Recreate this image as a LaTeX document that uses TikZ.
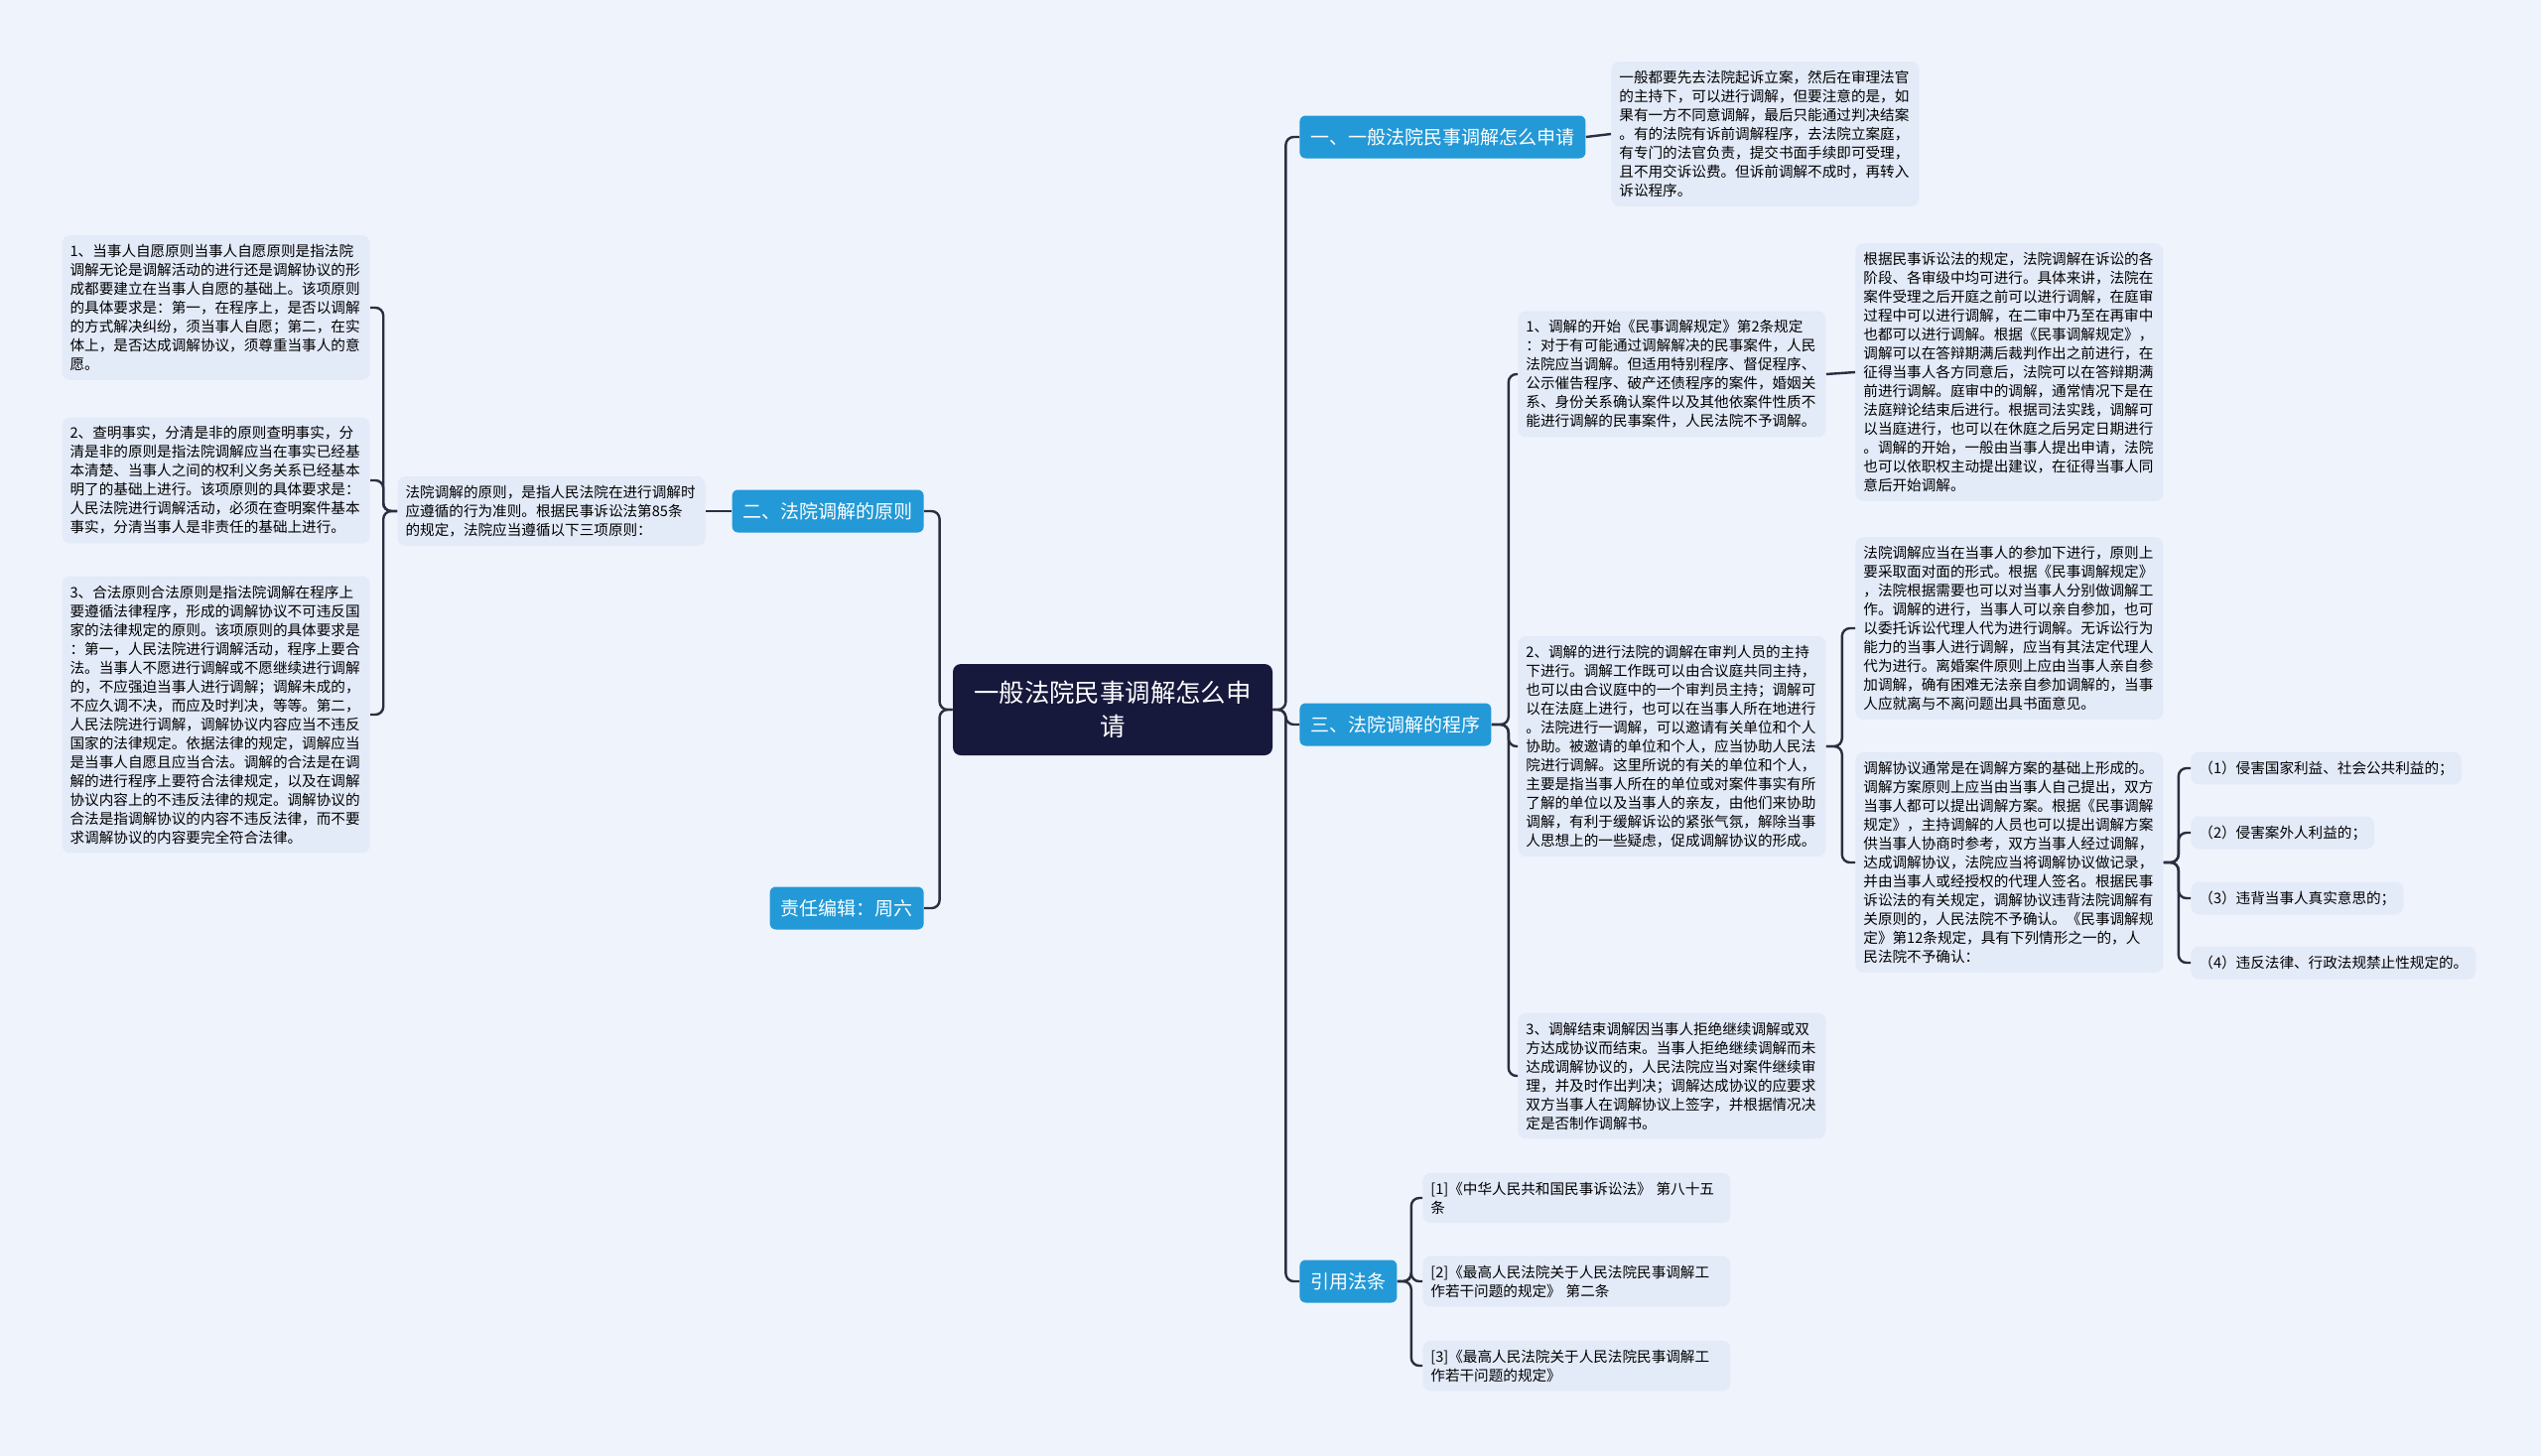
\documentclass[tikz,border=0pt]{standalone}
\usepackage{fontspec}
\setmainfont{Noto Sans CJK SC}
\usetikzlibrary{positioning}
\definecolor{bgc}{HTML}{EFF3FC}
\definecolor{boxc}{HTML}{E3EAF8}
\definecolor{topicc}{HTML}{2399D7}
\definecolor{rootc}{HTML}{16183C}
\definecolor{linec}{HTML}{2B2E40}

\begin{document}
\begin{tikzpicture}[
    x=0.5pt, y=-0.5pt,
    rootbox/.style={fill=rootc, text=white, rounded corners=4pt, minimum width=161pt, minimum height=46pt, text width=141pt, align=center, font=\fontsize{12.7pt}{17pt}\selectfont},
    topic/.style={fill=topicc, text=white, rounded corners=3pt, minimum height=21.5pt, inner xsep=5.5pt, font=\fontsize{9.5pt}{12pt}\selectfont},
    note/.style={fill=boxc, rounded corners=4pt, text width=147pt, align=left, inner xsep=4pt, inner ysep=4.5pt, font=\fontsize{7.3pt}{9.5pt}\selectfont},
    item/.style={fill=boxc, rounded corners=4pt, minimum height=16.5pt, inner xsep=4pt, font=\fontsize{7.3pt}{9.5pt}\selectfont},
    link/.style={draw=linec, line width=1.2pt, rounded corners=4pt}
]
    \fill[bgc] (0,0) rectangle (2560,1467);

    \node[rootbox] (root) at (1121, 715) {一般法院民事调解怎么申\\请};

    \node[topic, anchor=west] (apply) at (1309, 138) {一、一般法院民事调解怎么申请};
    \node[topic, anchor=east] (rule) at (931, 515) {二、法院调解的原则};
    \node[topic, anchor=west] (proc) at (1309, 730) {三、法院调解的程序};
    \node[topic, anchor=west] (cite) at (1309, 1291) {引用法条};
    \node[topic, anchor=east] (editor) at (931, 915) {责任编辑：周六};

    \node[note, anchor=west] (applytxt) at (1623, 135) {一般都要先去法院起诉立案，然后在审理法官\\
的主持下，可以进行调解，但要注意的是，如\\
果有一方不同意调解，最后只能通过判决结案\\
。有的法院有诉前调解程序，去法院立案庭，\\
有专门的法官负责，提交书面手续即可受理，\\
且不用交诉讼费。但诉前调解不成时，再转入\\
诉讼程序。};

    \node[note, anchor=east] (ruletxt) at (711, 515) {法院调解的原则，是指人民法院在进行调解时\\
应遵循的行为准则。根据民事诉讼法第85条\\
的规定，法院应当遵循以下三项原则：};

    \node[note, anchor=east] (rule1) at (373, 310) {1、当事人自愿原则当事人自愿原则是指法院\\
调解无论是调解活动的进行还是调解协议的形\\
成都要建立在当事人自愿的基础上。该项原则\\
的具体要求是：第一，在程序上，是否以调解\\
的方式解决纠纷，须当事人自愿；第二，在实\\
体上，是否达成调解协议，须尊重当事人的意\\
愿。};

    \node[note, anchor=east] (rule2) at (373, 484) {2、查明事实，分清是非的原则查明事实，分\\
清是非的原则是指法院调解应当在事实已经基\\
本清楚、当事人之间的权利义务关系已经基本\\
明了的基础上进行。该项原则的具体要求是：\\
人民法院进行调解活动，必须在查明案件基本\\
事实，分清当事人是非责任的基础上进行。};

    \node[note, anchor=east] (rule3) at (373, 720) {3、合法原则合法原则是指法院调解在程序上\\
要遵循法律程序，形成的调解协议不可违反国\\
家的法律规定的原则。该项原则的具体要求是\\
：第一，人民法院进行调解活动，程序上要合\\
法。当事人不愿进行调解或不愿继续进行调解\\
的，不应强迫当事人进行调解；调解未成的，\\
不应久调不决，而应及时判决，等等。第二，\\
人民法院进行调解，调解协议内容应当不违反\\
国家的法律规定。依据法律的规定，调解应当\\
是当事人自愿且应当合法。调解的合法是在调\\
解的进行程序上要符合法律规定，以及在调解\\
协议内容上的不违反法律的规定。调解协议的\\
合法是指调解协议的内容不违反法律，而不要\\
求调解协议的内容要完全符合法律。};

    \node[note, anchor=west] (start) at (1529, 377) {1、调解的开始《民事调解规定》第2条规定\\
：对于有可能通过调解解决的民事案件，人民\\
法院应当调解。但适用特别程序、督促程序、\\
公示催告程序、破产还债程序的案件，婚姻关\\
系、身份关系确认案件以及其他依案件性质不\\
能进行调解的民事案件，人民法院不予调解。};

    \node[note, anchor=west] (starttxt) at (1869, 375) {根据民事诉讼法的规定，法院调解在诉讼的各\\
阶段、各审级中均可进行。具体来讲，法院在\\
案件受理之后开庭之前可以进行调解，在庭审\\
过程中可以进行调解，在二审中乃至在再审中\\
也都可以进行调解。根据《民事调解规定》，\\
调解可以在答辩期满后裁判作出之前进行，在\\
征得当事人各方同意后，法院可以在答辩期满\\
前进行调解。庭审中的调解，通常情况下是在\\
法庭辩论结束后进行。根据司法实践，调解可\\
以当庭进行，也可以在休庭之后另定日期进行\\
。调解的开始，一般由当事人提出申请，法院\\
也可以依职权主动提出建议，在征得当事人同\\
意后开始调解。};

    \node[note, anchor=west] (run) at (1529, 752) {2、调解的进行法院的调解在审判人员的主持\\
下进行。调解工作既可以由合议庭共同主持，\\
也可以由合议庭中的一个审判员主持；调解可\\
以在法庭上进行，也可以在当事人所在地进行\\
。法院进行一调解，可以邀请有关单位和个人\\
协助。被邀请的单位和个人，应当协助人民法\\
院进行调解。这里所说的有关的单位和个人，\\
主要是指当事人所在的单位或对案件事实有所\\
了解的单位以及当事人的亲友，由他们来协助\\
调解，有利于缓解诉讼的紧张气氛，解除当事\\
人思想上的一些疑虑，促成调解协议的形成。};

    \node[note, anchor=west] (runtxt) at (1869, 633) {法院调解应当在当事人的参加下进行，原则上\\
要采取面对面的形式。根据《民事调解规定》\\
，法院根据需要也可以对当事人分别做调解工\\
作。调解的进行，当事人可以亲自参加，也可\\
以委托诉讼代理人代为进行调解。无诉讼行为\\
能力的当事人进行调解，应当有其法定代理人\\
代为进行。离婚案件原则上应由当事人亲自参\\
加调解，确有困难无法亲自参加调解的，当事\\
人应就离与不离问题出具书面意见。};

    \node[note, anchor=west] (deal) at (1869, 869) {调解协议通常是在调解方案的基础上形成的。\\
调解方案原则上应当由当事人自己提出，双方\\
当事人都可以提出调解方案。根据《民事调解\\
规定》，主持调解的人员也可以提出调解方案\\
供当事人协商时参考，双方当事人经过调解，\\
达成调解协议，法院应当将调解协议做记录，\\
并由当事人或经授权的代理人签名。根据民事\\
诉讼法的有关规定，调解协议违背法院调解有\\
关原则的，人民法院不予确认。《民事调解规\\
定》第12条规定，具有下列情形之一的，人\\
民法院不予确认：};

    \node[item, anchor=west] (case1) at (2207, 774) {（1）侵害国家利益、社会公共利益的；};
    \node[item, anchor=west] (case2) at (2207, 839) {（2）侵害案外人利益的；};
    \node[item, anchor=west] (case3) at (2207, 905) {（3）违背当事人真实意思的；};
    \node[item, anchor=west] (case4) at (2207, 970) {（4）违反法律、行政法规禁止性规定的。};

    \node[note, anchor=west] (finish) at (1529, 1084) {3、调解结束调解因当事人拒绝继续调解或双\\
方达成协议而结束。当事人拒绝继续调解而未\\
达成调解协议的，人民法院应当对案件继续审\\
理，并及时作出判决；调解达成协议的应要求\\
双方当事人在调解协议上签字，并根据情况决\\
定是否制作调解书。};

    \node[note, anchor=west] (law1) at (1433, 1207) {[1]《中华人民共和国民事诉讼法》 第八十五\\条};
    \node[note, anchor=west] (law2) at (1433, 1291) {[2]《最高人民法院关于人民法院民事调解工\\作若干问题的规定》 第二条};
    \node[note, anchor=west] (law3) at (1433, 1376) {[3]《最高人民法院关于人民法院民事调解工\\作若干问题的规定》};

    \draw[link] (root.east) -- ++(13,0) |- (apply.west);
    \draw[link] (root.east) -- ++(13,0) |- (proc.west);
    \draw[link] (root.east) -- ++(13,0) |- (cite.west);
    \draw[link] (root.west) -- ++(-13,0) |- (rule.east);
    \draw[link] (root.west) -- ++(-13,0) |- (editor.east);

    \draw[link] (apply.east) -- (applytxt.west);
    \draw[link] (rule.west) -- (ruletxt.east);
    \draw[link] (ruletxt.west) -- ++(-14,0) |- (rule1.east);
    \draw[link] (ruletxt.west) -- ++(-14,0) |- (rule2.east);
    \draw[link] (ruletxt.west) -- ++(-14,0) |- (rule3.east);

    \draw[link] (proc.east) -- ++(17,0) |- (start.west);
    \draw[link] (proc.east) -- ++(17,0) |- (run.west);
    \draw[link] (proc.east) -- ++(17,0) |- (finish.west);
    \draw[link] (start.east) -- (starttxt.west);
    \draw[link] (run.east) -- ++(16,0) |- (runtxt.west);
    \draw[link] (run.east) -- ++(16,0) |- (deal.west);
    \draw[link] (deal.east) -- ++(15,0) |- (case1.west);
    \draw[link] (deal.east) -- ++(15,0) |- (case2.west);
    \draw[link] (deal.east) -- ++(15,0) |- (case3.west);
    \draw[link] (deal.east) -- ++(15,0) |- (case4.west);

    \draw[link] (cite.east) -- ++(14,0) |- (law1.west);
    \draw[link] (cite.east) -- ++(14,0) |- (law2.west);
    \draw[link] (cite.east) -- ++(14,0) |- (law3.west);
\end{tikzpicture}
\end{document}
